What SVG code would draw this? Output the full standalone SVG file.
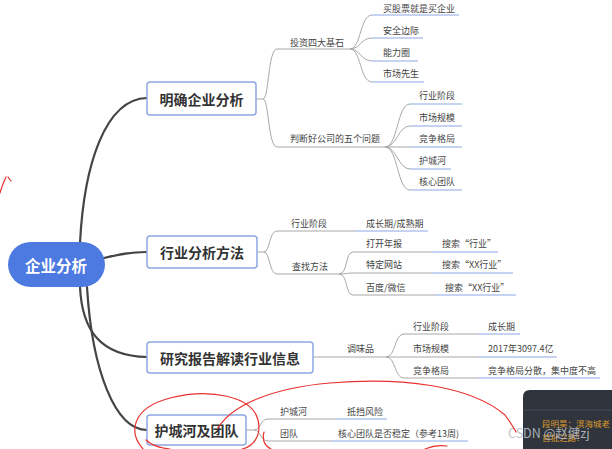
<svg xmlns="http://www.w3.org/2000/svg" width="612" height="449" viewBox="0 0 612 449">
<defs>
<style>
.main{fill:#fff;stroke:#8ea8e4;stroke-width:1.5}
.mt{font-family:"Noto Sans CJK SC","Liberation Sans",sans-serif;font-size:14px;font-weight:bold;fill:#333;text-anchor:middle;dominant-baseline:central}
.t{font-family:"Noto Sans CJK SC","Liberation Sans",sans-serif;font-size:9px;fill:#444;dominant-baseline:central}
.trunk{fill:none;stroke:#444;stroke-width:2.2;stroke-linecap:round}
.br{fill:none;stroke:#a8a8a8;stroke-width:1}
.lf{fill:none;stroke:#8ea6e6;stroke-width:1}
.red{fill:none;stroke:#e8322e;stroke-width:1.2;stroke-linecap:round}
.ov{font-family:"Noto Sans CJK SC",sans-serif;font-size:8.5px;fill:#d99a2a;dominant-baseline:central}
</style>
</defs>
<rect width="612" height="449" fill="#ffffff"/>

<g id="connectors">
<path class="trunk" d="M80 243 C84 165,105 99,147 98"/>
<path class="trunk" d="M104 258 C120 254,130 252,147 252"/>
<path class="trunk" d="M80 287 C82 330,100 356,147 357"/>
<path class="trunk" d="M87 287 C92 370,115 430,147 430"/>

<path class="br" d="M256 99 H263 C269 99,268 49,277 49 H350"/>
<path class="br" d="M263 99 C269 99,268 147,277 147 H385"/>
<path class="br" d="M350 49 C361 49,360 15,372 15 M350 49 C360 49,361 38,372 38 M350 49 C360 49,361 61,372 61 M350 49 C361 49,360 82,372 82"/>
<path class="lf" d="M372 15 H459 M372 38 H423 M372 61 H418 M372 82 H424"/>
<path class="br" d="M385 147 C398 147,397 104,410 104 M385 147 C397 147,398 126,410 126 M385 147 H410 M385 147 C397 147,398 169,410 169 M385 147 C398 147,397 190,410 190"/>
<path class="lf" d="M410 104 H462 M410 126 H462 M410 147 H462 M410 169 H451 M410 190 H462"/>

<path class="br" d="M257 252 H264 C270 252,269 231,277 231 H355"/>
<path class="br" d="M264 252 C270 252,269 274,277 274 H339"/>
<path class="lf" d="M355 231 H428"/>
<path class="br" d="M339 274 C348 274,345 252,353 252 H432 M339 274 C346 274,347 273,353 273 H432 M339 274 C348 274,345 295,353 295 H435"/>
<path class="lf" d="M432 252 H498 M432 273 H513 M435 295 H516"/>

<path class="br" d="M313 357 H386 C396 357,394 334,404 334 H478 M386 357 H404 M386 357 C396 357,394 378,404 378 H478"/>
<path class="br" d="M404 357 H478"/>
<path class="lf" d="M478 334 H520 M478 357 H557 M478 378 H600"/>

<path class="br" d="M246 430 H254 C261 430,260 419,268 419 H335 M254 430 C261 430,260 441,268 441 H332"/>
<path class="lf" d="M335 419 H387 M332 441 H468"/>
</g>

<g id="root">
<rect x="8" y="242" width="97" height="45" rx="22.5" fill="#4d7ae0"/>
<text x="56" y="264.5" class="mt" style="fill:#fff;font-size:15.5px">企业分析</text>
</g>

<g id="n1">
<rect class="main" x="147" y="82" width="109" height="33" rx="3"/>
<text class="mt" x="201.5" y="98.5">明确企业分析</text>
</g>
<g id="n2">
<rect class="main" x="147" y="236" width="110" height="32" rx="3"/>
<text class="mt" x="202" y="252">行业分析方法</text>
</g>
<g id="n3">
<rect class="main" x="147" y="342" width="166" height="31" rx="3"/>
<text class="mt" x="230" y="357.5">研究报告解读行业信息</text>
</g>
<g id="n4">
<rect class="main" x="147" y="415" width="99" height="30" rx="3"/>
<text class="mt" x="196.5" y="430">护城河及团队</text>
</g>

<g id="n1-children">
<text class="t" x="290" y="42">投资四大基石</text>
<text class="t" x="290" y="138.5">判断好公司的五个问题</text>
<text class="t" x="383" y="8">买股票就是买企业</text>
<text class="t" x="383" y="30">安全边际</text>
<text class="t" x="383" y="52">能力圈</text>
<text class="t" x="383" y="73.5">市场先生</text>
<text class="t" x="419" y="95">行业阶段</text>
<text class="t" x="419" y="117">市场规模</text>
<text class="t" x="419" y="138.5">竞争格局</text>
<text class="t" x="419" y="160">护城河</text>
<text class="t" x="419" y="181.5">核心团队</text>
</g>

<g id="n2-children">
<text class="t" x="291" y="223">行业阶段</text>
<text class="t" x="292" y="266">查找方法</text>
<text class="t" x="366" y="223">成长期/成熟期</text>
<text class="t" x="366" y="243.5">打开年报</text>
<text class="t" x="366" y="264">特定网站</text>
<text class="t" x="366" y="287">百度/微信</text>
<text class="t" x="442" y="243.5">搜索“行业”</text>
<text class="t" x="442" y="264">搜索“XX行业”</text>
<text class="t" x="445" y="287">搜索“XX行业”</text>
</g>

<g id="n3-children">
<text class="t" x="347" y="348">调味品</text>
<text class="t" x="413" y="326.5">行业阶段</text>
<text class="t" x="413" y="348.5">市场规模</text>
<text class="t" x="413" y="370.5">竞争格局</text>
<text class="t" x="488" y="326.5">成长期</text>
<text class="t" x="488" y="348.5">2017年3097.4亿</text>
<text class="t" x="488" y="370.5">竞争格局分散，集中度不高</text>
</g>

<g id="n4-children">
<text class="t" x="280" y="411">护城河</text>
<text class="t" x="347" y="411">抵挡风险</text>
<text class="t" x="280" y="433">团队</text>
<text class="t" x="338" y="433">核心团队是否稳定（参考13周)</text>
</g>

<g id="overlay">
<path d="M530 390 H612 V449 H523 V397 Q523 390,530 390 Z" fill="#2f343d"/>
<line x1="523" y1="410" x2="612" y2="410" stroke="#454b55" stroke-width="1"/>
<text class="ov" x="542" y="423">段明昊：滨海城老</text>
<text class="ov" x="542" y="437">首批之路！</text>
<text x="508" y="432" style="font-family:'Noto Sans CJK SC','Liberation Sans',sans-serif;font-size:12.5px;fill:#b8bcc2;dominant-baseline:central;opacity:0.9">CSDN @赵健zj</text>
</g>

<g id="annotations">
<path class="red" d="M0 193 C2 186,4 181,6 177"/>
<path class="red" d="M8 177 L11 181"/>
<path class="red" d="M143 449 C128 432,132 408,170 398 C210 388,252 396,258 420 C262 437,252 447,242 449"/>
<path class="red" d="M218 428 C232 405,272 388,330 383 C400 377,470 385,505 415 C510 422,514 428,516 432"/>
<path class="red" d="M264 432 C262 440,265 446,271 449"/>
<path class="red" d="M146 440 C152 446,160 448,170 449"/>
<path class="red" d="M425 449 C432 446,440 445,447 446"/>
</g>
</svg>
